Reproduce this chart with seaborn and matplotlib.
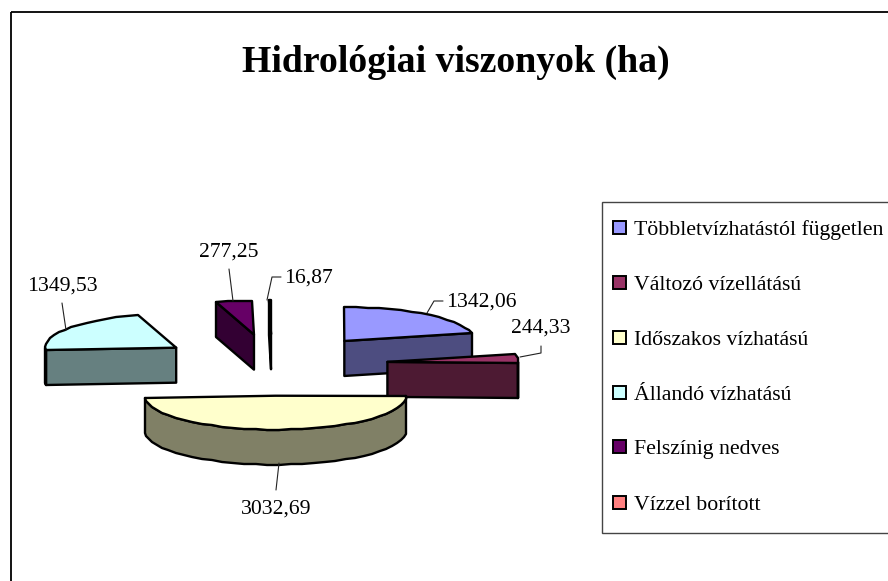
import numpy as np
import seaborn as sns
import matplotlib.pyplot as plt
from matplotlib.patches import Polygon, Rectangle

categories = ["Többletvízhatástól független", "Változó vízellátású", "Időszakos vízhatású",
              "Állandó vízhatású", "Felszínig nedves", "Vízzel borított"]
values = [1342.06, 244.33, 3032.69, 1349.53, 277.25, 16.87]
value_labels = ["1342,06", "244,33", "3032,69", "1349,53", "277,25", "16,87"]
top_colors = ["#9999FF", "#993366", "#FFFFCC", "#CCFFFF", "#660066", "#FF8080"]
side_colors = ["#4D4D80", "#4D1A33", "#808066", "#668080", "#330033", "#000000"]

sns.set_theme(style="white")
plt.rcParams["font.family"] = ["Liberation Serif", "DejaVu Serif"]

# axes are in pixels, y down, so the layout below can be measured on the picture
fig = plt.figure(figsize=(8.88, 5.81), dpi=100)
ax = fig.add_axes([0, 0, 1, 1])
ax.set_xlim(0, 888)
ax.set_ylim(581, 0)
ax.axis("off")

cx, cy = 272, 365
rx, ry = 131, 34
depth = 35
explode = 116
explode_y = 0.265
edge = dict(edgecolor="black", linewidth=1.7, joinstyle="round")


def rim(x0, y0, a0, a1):
    n = max(int(abs(a1 - a0) / 5), 1) + 1
    a = np.radians(np.linspace(a0, a1, n))
    pts = np.column_stack([x0 + rx * np.sin(a), y0 - ry * np.cos(a)])
    return np.round(pts)


angles = np.cumsum([0] + values) / sum(values) * 360
slices = []
for i in range(len(values)):
    a0, a1 = angles[i], angles[i + 1]
    mid = np.radians((a0 + a1) / 2)
    x0 = cx + explode * np.sin(mid)
    y0 = cy - explode * explode_y * np.cos(mid)
    slices.append((i, a0, a1, x0, y0))

# back slices first
for i, a0, a1, x0, y0 in [slices[k] for k in [5, 4, 3, 0, 1, 2]]:
    apex = np.array([[x0, y0]])
    down = np.array([0, depth])
    walls = []
    if np.sin(np.radians(a1)) > 0:
        walls.append(rim(x0, y0, a1, a1)[0])
    if np.sin(np.radians(a0)) < 0:
        walls.append(rim(x0, y0, a0, a0)[0])
    for p in walls:
        quad = np.vstack([apex, [p], [p + down], apex + down])
        ax.add_patch(Polygon(quad, facecolor=side_colors[i], **edge))
    lo, hi = max(a0, 90), min(a1, 270)
    if lo < hi:
        r = rim(x0, y0, lo, hi)
        ax.add_patch(Polygon(np.vstack([r, (r + down)[::-1]]), facecolor=side_colors[i], **edge))
    ax.add_patch(Polygon(np.vstack([apex, rim(x0, y0, a0, a1)]), facecolor=top_colors[i], **edge))

# data labels with their leader lines
leaders = [[(427, 313), (434, 301), (443, 301)],
           [(520, 357), (541, 353), (541, 346)],
           [(279, 463), (276, 490)],
           [(66, 330), (62, 303)],
           [(233, 301), (229, 269)],
           [(267, 300), (272, 277), (281, 277)]]
label_pos = [(446, 307), (511, 333), (276, 514), (62, 291), (229, 257), (284, 283)]
label_ha = ["left", "left", "center", "center", "center", "left"]
for i in range(len(values)):
    xs, ys = zip(*leaders[i])
    ax.plot(xs, ys, color="#222222", linewidth=0.8)
    ax.text(label_pos[i][0], label_pos[i][1], value_labels[i], ha=label_ha[i], va="baseline",
            fontsize=15.6, color="black")

ax.text(456, 72, "Hidrológiai viszonyok (ha)", ha="center", va="baseline",
        fontsize=27.2, fontweight="bold", color="black")

# legend box and chart frame
ax.add_patch(Rectangle((602, 202), 300, 331, facecolor="white", edgecolor="#444444", linewidth=1))
legend_y = [228, 283, 338, 393, 447, 503]
for i, name in enumerate(categories):
    ax.add_patch(Rectangle((613, legend_y[i] - 7), 13, 13, facecolor=top_colors[i],
                           edgecolor="black", linewidth=1.4))
    ax.text(634, legend_y[i] + 7, name, ha="left", va="baseline", fontsize=15.7, color="black")

ax.add_patch(Rectangle((11, 12), 900, 600, fill=False, edgecolor="black", linewidth=1.3))

fig.savefig("out.png", dpi=100)
